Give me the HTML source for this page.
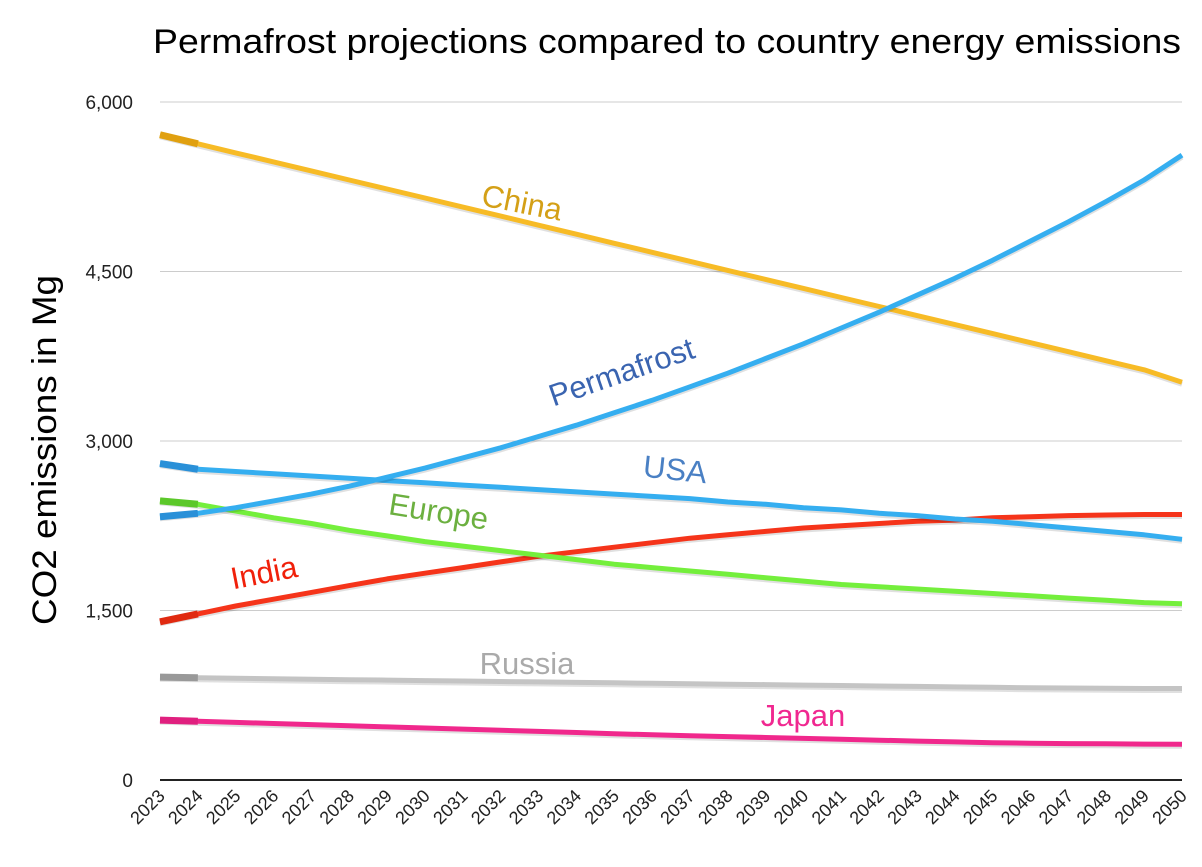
<!DOCTYPE html>
<html><head><meta charset="utf-8"><style>
body{margin:0;background:#fff;width:1202px;height:862px;overflow:hidden}
svg text{font-family:"Liberation Sans",sans-serif}
</style></head><body>
<svg id="c" width="1202" height="862"></svg>
<script>
const years=[2023,2024,2025,2026,2027,2028,2029,2030,2031,2032,2033,2034,2035,2036,2037,2038,2039,2040,2041,2042,2043,2044,2045,2046,2047,2048,2049,2050];
const yTicks=[0,1500,3000,4500,6000];
const yTickLabels=["0","1,500","3,000","4,500","6,000"];
const china=[5710,5630,5550,5470,5390,5310,5230,5150,5070,4990,4910,4830,4750,4670,4590,4510,4430,4350,4270,4190,4110,4030,3950,3870,3790,3710,3630,3520];
const permafrost=[2330,2360,2410,2470,2530,2600,2680,2760,2850,2940,3040,3140,3250,3360,3480,3600,3730,3860,4000,4140,4290,4440,4600,4770,4940,5120,5310,5530];
const usa=[2800,2750,2730,2710,2690,2670,2650,2630,2610,2590,2570,2550,2530,2510,2490,2460,2440,2410,2390,2360,2340,2310,2290,2260,2230,2200,2170,2130];
const europe=[2470,2440,2380,2320,2270,2210,2160,2110,2070,2030,1990,1950,1910,1880,1850,1820,1790,1760,1730,1710,1690,1670,1650,1630,1610,1590,1570,1560];
const india=[1400,1470,1540,1600,1660,1720,1780,1830,1880,1930,1980,2020,2060,2100,2140,2170,2200,2230,2250,2270,2290,2300,2320,2330,2340,2345,2350,2350];
const russia=[910,905,900,896,892,888,884,880,876,872,868,864,860,856,852,848,844,840,836,832,828,824,820,816,814,812,810,810];
const japan=[530,520,510,500,490,480,470,460,450,440,430,420,410,400,392,384,376,368,360,352,344,337,330,326,322,320,318,316];
const series=[
 {name:"russia",data:russia,color:"#c4c4c4",first:"#999"},
 {name:"japan",data:japan,color:"#f0288c",first:"#e0207f"},
 {name:"india",data:india,color:"#f5341a",first:"#e02a10"},
 {name:"europe",data:europe,color:"#74ef3c",first:"#5cc82a"},
 {name:"usa",data:usa,color:"#35aef0",first:"#2a90d8"},
 {name:"china",data:china,color:"#f7bb26",first:"#e0a010"},
 {name:"permafrost",data:permafrost,color:"#35aef0",first:"#2a90d8"}
];
const X0=160,X1=1182,Y0=780,Y1=102;
const xs=i=>X0+(X1-X0)*i/(years.length-1);
const ys=v=>Y0-(Y0-Y1)*v/6000;
const svg=document.getElementById('c');
const NS="http://www.w3.org/2000/svg";
function mk(t,a,txt){const e=document.createElementNS(NS,t);for(const k in a)e.setAttribute(k,a[k]);if(txt!==undefined)e.textContent=txt;svg.appendChild(e);return e;}
let e=mk('text',{x:667,y:53,'font-size':34,'text-anchor':'middle',fill:'#000',textLength:1028,lengthAdjust:'spacingAndGlyphs'},'Permafrost projections compared to country energy emissions');


e=mk('text',{x:0,y:0,'font-size':34,'text-anchor':'middle',fill:'#000',transform:'translate(56,450) rotate(-90)',textLength:350,lengthAdjust:'spacingAndGlyphs'},'CO2 emissions in Mg');


yTicks.forEach((v,i)=>{
 const g=mk('line',{x1:X0,x2:X1,y1:ys(v),y2:ys(v),stroke:v===0?'#222':'#ccc','stroke-width':v===0?2:1});
 
 
 const t=mk('text',{x:133,y:ys(v)+7,'font-size':19,'text-anchor':'end',fill:'#222'},yTickLabels[i]);
 
 
});
years.forEach((yr,i)=>{
 const x=xs(i)+6,y=Y0+17;
 const t=mk('text',{x:x,y:y,'font-size':18,'text-anchor':'end',fill:'#222',transform:`rotate(-45 ${x} ${y})`},String(yr));
 
 
});
series.forEach(s=>{
 const pts=s.data.map((v,i)=>xs(i).toFixed(1)+','+ys(v).toFixed(1)).join(' ');
 const sh=mk('polyline',{points:pts,fill:'none',stroke:'rgba(0,0,0,0.12)','stroke-width':5,transform:'translate(0,2)'});
 
 
 const p=mk('polyline',{points:pts,fill:'none',stroke:s.color,'stroke-width':5,'stroke-linejoin':'round'});
 
 
 const f=mk('line',{x1:xs(0),y1:ys(s.data[0]),x2:xs(1),y2:ys(s.data[1]),stroke:s.first,'stroke-width':7});
 
 
});
const labels=[
 ["China",520,213,11,"#d4a017"],["Permafrost",625,382,-19,"#3a64b0"],["USA",674,480,6,"#4a80c4"],
 ["Europe",437,522,9,"#6cb040"],["India",266,583,-11,"#f0200a"],["Russia",527,674,0,"#aaa"],["Japan",803,726,0,"#f02890"]];
labels.forEach(l=>{
 const t=mk('text',{x:l[1],y:l[2],'font-size':31,'text-anchor':'middle',fill:l[4],transform:`rotate(${l[3]} ${l[1]} ${l[2]})`},l[0]);
 
 
});
</script>
</body></html>
